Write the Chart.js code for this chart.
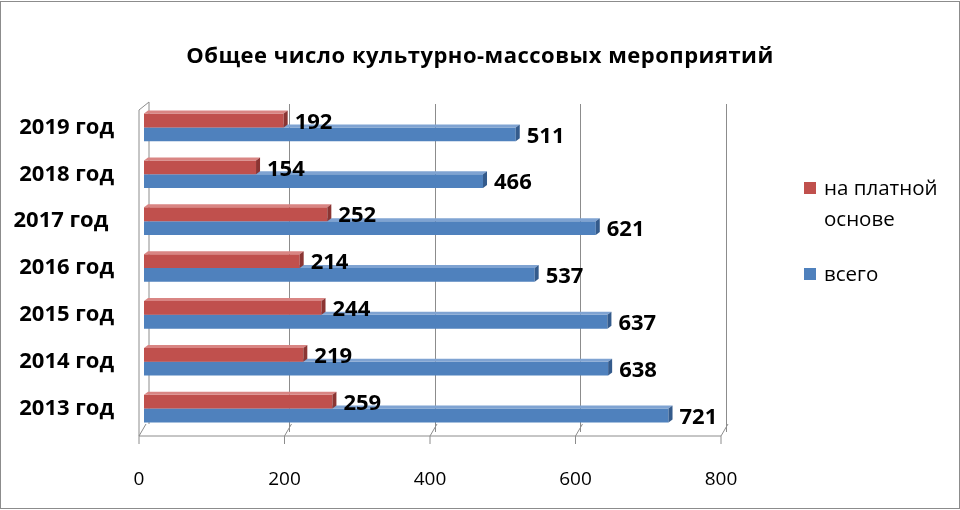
<!DOCTYPE html>
<html>
<head>
<meta charset="utf-8">
<script src="https://cdn.jsdelivr.net/npm/chart.js@4"></script>
<style>
  html, body { margin: 0; padding: 0; background: #fff; }
  #wrap { position: relative; width: 958px; height: 506px; border: 1px solid #8c8c8c; margin: 1px 0 0 0; overflow: hidden; }
  canvas { position: absolute; left: 0; top: 0; }
  #legend { position: absolute; left: 803px; top: 170px; font-family: "Open Sans", sans-serif; font-size: 20.5px; color: #000; line-height: 31px; }
  #legend .item { position: relative; padding-left: 20px; }
  #legend .box { position: absolute; left: 0; top: 10px; width: 12px; height: 12px; }
</style>
</head>
<body>
<div id="wrap">
  <canvas id="myChart" width="958" height="506"></canvas>
  <div id="legend"></div>
</div>
<script>
const chartTitle = "Общее число культурно-массовых мероприятий";
const years = ["2019 год", "2018 год", "2017 год ", "2016 год", "2015 год", "2014 год", "2013 год"];
const paidValues = [192, 154, 252, 214, 244, 219, 259];
const totalValues = [511, 466, 621, 537, 637, 638, 721];
const seriesNames = ["на платной основе", "всего"];
const xTicks = [0, 200, 400, 600, 800];

const colors = {
    red: { front: "#C0504D", top: "#D98583", side: "#8B3533" },
    blue: { front: "#4F81BD", top: "#7FA3D2", side: "#345B8C" }
};

// 3D look for the bars: top face and right end
const bar3d = {
    id: "bar3d",
    afterDatasetDraw(chart, args) {
        const ctx = chart.ctx;
        const c = args.index === 0 ? colors.red : colors.blue;
        const d = 4;
        args.meta.data.forEach(bar => {
            const top = bar.y - bar.height / 2;
            const bottom = bar.y + bar.height / 2;
            ctx.save();
            ctx.fillStyle = c.top;
            ctx.beginPath();
            ctx.moveTo(bar.base, top);
            ctx.lineTo(bar.x, top);
            ctx.lineTo(bar.x + d, top - d + 1);
            ctx.lineTo(bar.base + d, top - d + 1);
            ctx.closePath();
            ctx.fill();
            ctx.fillStyle = c.side;
            ctx.beginPath();
            ctx.moveTo(bar.x, top);
            ctx.lineTo(bar.x + d, top - d + 1);
            ctx.lineTo(bar.x + d, bottom - d + 1);
            ctx.lineTo(bar.x, bottom);
            ctx.closePath();
            ctx.fill();
            ctx.restore();
        });
    }
};

// value labels to the right of the bars
const valueLabels = {
    id: "valueLabels",
    afterDatasetsDraw(chart) {
        const ctx = chart.ctx;
        ctx.save();
        ctx.font = "bold 22px 'Open Sans', sans-serif";
        ctx.fillStyle = "#000";
        ctx.textBaseline = "middle";
        chart.data.datasets.forEach((ds, i) => {
            chart.getDatasetMeta(i).data.forEach((bar, j) => {
                ctx.fillText(ds.data[j], bar.x + 11, bar.y + 2);
            });
        });
        ctx.restore();
    }
};

// walls and floor of the 3D frame + title
const frame3d = {
    id: "frame3d",
    beforeDatasetsDraw(chart) {
        const ctx = chart.ctx;
        const a = chart.chartArea;
        const xs = chart.scales.x;
        ctx.save();
        ctx.strokeStyle = "#8c8c8c";
        ctx.lineWidth = 1;
        ctx.beginPath();
        // left wall
        ctx.moveTo(a.left + 5, a.top - 2);
        ctx.lineTo(a.left + 5, a.bottom - 8);
        ctx.moveTo(a.left - 5, a.top + 6);
        ctx.lineTo(a.left - 5, a.bottom + 4);
        ctx.moveTo(a.left - 5, a.top + 6);
        ctx.lineTo(a.left + 5, a.top - 2);
        // floor
        ctx.moveTo(a.left - 5, a.bottom + 4);
        ctx.lineTo(a.right - 5, a.bottom + 4);
        xTicks.forEach(t => {
            const px = xs.getPixelForValue(t) + 2;
            ctx.moveTo(px, a.bottom - 8);
            ctx.lineTo(px - 7, a.bottom + 4);
            ctx.lineTo(px - 7, a.bottom + 12);
        });
        ctx.stroke();
        ctx.restore();
    },
    afterDraw(chart) {
        const ctx = chart.ctx;
        ctx.save();
        ctx.font = "bold 22px 'Open Sans', sans-serif";
        ctx.letterSpacing = "0.5px";
        ctx.fillStyle = "#000";
        ctx.textAlign = "center";
        ctx.textBaseline = "middle";
        ctx.fillText(chartTitle, 479, 55);
        ctx.restore();
    }
};

const ctx = document.getElementById("myChart").getContext("2d");
const chart = new Chart(ctx, {
    type: "bar",
    data: {
        labels: years,
        datasets: [
            { label: seriesNames[0], data: paidValues, backgroundColor: colors.red.front },
            { label: seriesNames[1], data: totalValues, backgroundColor: colors.blue.front }
        ]
    },
    options: {
        indexAxis: "y",
        responsive: false,
        animation: false,
        devicePixelRatio: 1,
        layout: { padding: { top: 102, right: 233, left: 0, bottom: 0 } },
        datasets: { bar: { barPercentage: 1, categoryPercentage: 0.59 } },
        plugins: {
            legend: { display: false },
            tooltip: { enabled: false }
        },
        scales: {
            x: {
                min: 0,
                max: 800,
                afterBuildTicks: s => { s.ticks = xTicks.map(v => ({ value: v })); },
                afterFit: s => { s.height = 76; },
                grid: { color: "#8c8c8c", drawTicks: false, offset: false,
                        lineWidth: c => (c.tick && c.tick.value === 0 ? 0 : 1) },
                border: { display: false },
                ticks: { padding: 36, labelOffset: -5, color: "#000",
                         font: { family: "'Open Sans', sans-serif", size: 19 } }
            },
            y: {
                afterFit: s => { s.width = 143; },
                grid: { display: false, drawTicks: false },
                border: { display: false },
                ticks: { padding: 30, color: "#000",
                         font: { family: "'Open Sans', sans-serif", size: 22, weight: "bold" } }
            }
        }
    },
    plugins: [frame3d, bar3d, valueLabels]
});

// legend
const legend = document.getElementById("legend");
const legendItems = [
    { text: "на платной<br>основе", color: colors.red.front, gap: 24 },
    { text: "всего", color: colors.blue.front, gap: 0 }
];
legendItems.forEach(it => {
    const div = document.createElement("div");
    div.className = "item";
    div.style.marginBottom = it.gap + "px";
    div.innerHTML = '<span class="box" style="background:' + it.color + '"></span>' + it.text;
    legend.appendChild(div);
});
</script>
</body>
</html>
